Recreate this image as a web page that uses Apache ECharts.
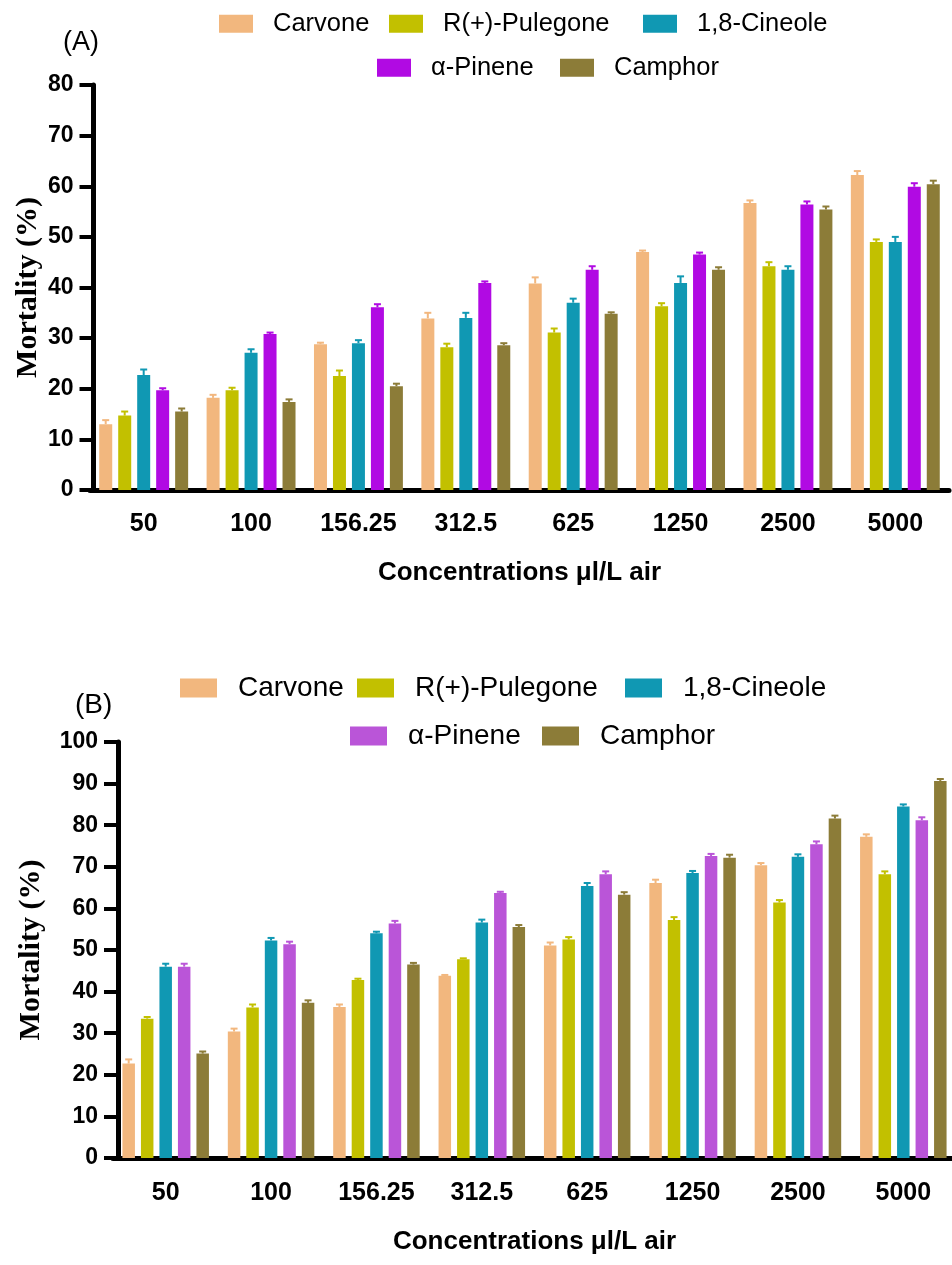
<!DOCTYPE html>
<html>
<head>
<meta charset="utf-8">
<script src="https://cdn.jsdelivr.net/npm/echarts@6/dist/echarts.min.js"></script>
<style>
  html, body { margin: 0; padding: 0; background: #fff; }
  #main { width: 952px; height: 1265px; }
</style>
</head>
<body>
<div id="main"></div>
<script>
var categories = ['50', '100', '156.25', '312.5', '625', '1250', '2500', '5000'];
var names = ['Carvone', 'R(+)-Pulegone', '1,8-Cineole', 'α-Pinene', 'Camphor'];
var colorsA = ['#F2B77E', '#C2C000', '#1098B3', '#B10AE3', '#8C7C38'];
var colorsB = ['#F2B77E', '#C2C000', '#1098B3', '#BA55D8', '#8C7C38'];

// (A) mortality %
var carvoneA = [13.0, 18.2, 28.8, 33.9, 40.8, 47.0, 56.7, 62.2];
var pulegoneA = [14.7, 19.7, 22.5, 28.2, 31.1, 36.3, 44.2, 49.0];
var cineoleA = [22.7, 27.1, 29.0, 34.0, 37.0, 40.9, 43.5, 49.0];
var pineneA = [19.7, 30.8, 36.1, 40.9, 43.5, 46.5, 56.4, 59.9];
var camphorA = [15.5, 17.4, 20.5, 28.6, 34.8, 43.5, 55.4, 60.4];
var carvoneAErr = [0.8, 0.6, 0.3, 1.1, 1.2, 0.3, 0.5, 0.8];
var pulegoneAErr = [0.8, 0.5, 1.1, 0.7, 0.8, 0.6, 0.8, 0.5];
var cineoleAErr = [1.1, 0.7, 0.6, 1.0, 0.8, 1.3, 0.7, 1.0];
var pineneAErr = [0.4, 0.3, 0.6, 0.3, 0.7, 0.4, 0.6, 0.7];
var camphorAErr = [0.6, 0.5, 0.5, 0.4, 0.3, 0.5, 0.6, 0.7];

// (B) mortality %
var carvoneB = [22.7, 30.4, 36.3, 43.8, 51.1, 66.1, 70.4, 77.2];
var pulegoneB = [33.5, 36.2, 42.8, 47.8, 52.5, 57.2, 61.4, 68.2];
var cineoleB = [46.0, 52.3, 54.0, 56.6, 65.4, 68.5, 72.4, 84.5];
var pineneB = [46.0, 51.4, 56.4, 63.7, 68.2, 72.6, 75.4, 81.2];
var camphorB = [25.1, 37.3, 46.5, 55.5, 63.3, 72.2, 81.6, 90.6];
var carvoneBErr = [1.0, 0.7, 0.6, 0.2, 0.7, 0.8, 0.5, 0.6];
var pulegoneBErr = [0.4, 0.7, 0.3, 0.2, 0.6, 0.7, 0.6, 0.7];
var cineoleBErr = [0.7, 0.6, 0.4, 0.7, 0.7, 0.5, 0.6, 0.5];
var pineneBErr = [0.7, 0.6, 0.6, 0.3, 0.7, 0.5, 0.7, 0.7];
var camphorBErr = [0.5, 0.6, 0.4, 0.5, 0.6, 0.7, 0.7, 0.5];

var valuesA = [carvoneA, pulegoneA, cineoleA, pineneA, camphorA];
var errA = [carvoneAErr, pulegoneAErr, cineoleAErr, pineneAErr, camphorAErr];
var valuesB = [carvoneB, pulegoneB, cineoleB, pineneB, camphorB];
var errB = [carvoneBErr, pulegoneBErr, cineoleBErr, pineneBErr, camphorBErr];

var sans = "'Liberation Sans', Arial, sans-serif";
var serif = "'Liberation Serif', 'Times New Roman', serif";

function xAxisOf(gi, margin, gap) {
  return {
    type: 'category', gridIndex: gi, data: categories,
    name: 'Concentrations μl/L air', nameLocation: 'middle', nameGap: gap,
    nameTextStyle: { fontFamily: sans, fontWeight: 'bold', fontSize: 26, color: '#000' },
    axisLine: { lineStyle: { color: '#000', width: 5 } },
    axisTick: { alignWithLabel: true, length: 11, lineStyle: { color: '#000', width: 4 } },
    axisLabel: { interval: 0, margin: margin, fontFamily: sans, fontWeight: 'bold', fontSize: 25, color: '#000' },
    splitLine: { show: false }
  };
}
function yAxisOf(gi, max, offset, gap) {
  return {
    type: 'value', gridIndex: gi, min: 0, max: max, interval: 10, offset: offset,
    name: 'Mortality (%)', nameLocation: 'middle', nameGap: gap, nameRotate: 90,
    nameMoveOverlap: false,
    nameTextStyle: { fontFamily: serif, fontWeight: 'bold', fontSize: 30, color: '#000' },
    axisLine: { show: true, lineStyle: { color: '#000', width: 5 } },
    axisTick: { show: true, length: 14, lineStyle: { color: '#000', width: 4 } },
    axisLabel: { margin: 20, fontFamily: sans, fontWeight: 'bold', fontSize: 23, color: '#000' },
    splitLine: { show: false }
  };
}

// upward error bar with a small cap, drawn over each bar
function errorSeries(gi, values, errs, color, idx, step) {
  var data = values.map(function (v, i) { return [i, v, v + errs[i]]; });
  return {
    type: 'custom', xAxisIndex: gi, yAxisIndex: gi, z: 5, silent: true,
    data: data,
    renderItem: function (params, api) {
      var p0 = api.coord([api.value(0), api.value(1)]);
      var p1 = api.coord([api.value(0), api.value(2)]);
      var x = p0[0] + (idx - 2) * step;
      var st = { stroke: color, lineWidth: 2 };
      return {
        type: 'group',
        children: [
          { type: 'line', shape: { x1: x, y1: p0[1], x2: x, y2: p1[1] }, style: st },
          { type: 'line', shape: { x1: x - 3.5, y1: p1[1], x2: x + 3.5, y2: p1[1] }, style: st }
        ]
      };
    }
  };
}

var series = [];
names.forEach(function (n, i) {
  series.push({
    name: n, type: 'bar', xAxisIndex: 0, yAxisIndex: 0,
    data: valuesA[i], barWidth: 13, barGap: '46%',
    itemStyle: { color: colorsA[i] }
  });
});
names.forEach(function (n, i) {
  series.push(errorSeries(0, valuesA[i], errA[i], colorsA[i], i, 19));
});
names.forEach(function (n, i) {
  series.push({
    name: n, type: 'bar', xAxisIndex: 1, yAxisIndex: 1,
    data: valuesB[i], barWidth: 12.5, barGap: '48%',
    itemStyle: { color: colorsB[i] }
  });
});
names.forEach(function (n, i) {
  series.push(errorSeries(1, valuesB[i], errB[i], colorsB[i], i, 18.5));
});

// one legend entry per component so each sits where the figure has it
var legendA = { lefts: [219, 389, 643, 377, 560], row: [0, 0, 0, 1, 1], tops: [10, 54] };
var legendB = { lefts: [180, 357, 625, 350, 542], row: [0, 0, 0, 1, 1], tops: [673, 721] };
function legendsOf(L, colors, w, h, fs, pad) {
  return names.map(function (n, i) {
    return {
      left: L.lefts[i], top: L.tops[L.row[i]], selectedMode: false, padding: 0,
      icon: 'rect', itemWidth: w, itemHeight: h,
      textStyle: { fontFamily: sans, fontSize: fs, lineHeight: fs + 2, color: '#000', padding: [0, 0, 0, pad] },
      data: [{ name: n, itemStyle: { color: colors[i] } }]
    };
  });
}

var chart = echarts.init(document.getElementById('main'), null, { renderer: 'canvas' });
chart.setOption({
  animation: false,
  backgroundColor: '#fff',
  grid: [
    { left: 90, top: 85, width: 859, height: 405, outerBoundsMode: 'none' },
    { left: 113, top: 742, width: 843, height: 416, outerBoundsMode: 'none' }
  ],
  legend: legendsOf(legendA, colorsA, 34, 18, 25.5, 15).concat(legendsOf(legendB, colorsB, 37, 19, 28, 16)),
  xAxis: [xAxisOf(0, 22, 70), xAxisOf(1, 23, 71)],
  yAxis: [yAxisOf(0, 80, -3.5, 50), yAxisOf(1, 100, -5, 72)],
  graphic: [
    { type: 'text', left: 63, top: 29, style: { text: '(A)', font: "27px " + sans, fill: '#000' } },
    { type: 'text', left: 75, top: 691, style: { text: '(B)', font: "28px " + sans, fill: '#000' } }
  ],
  series: series
});
</script>
</body>
</html>
